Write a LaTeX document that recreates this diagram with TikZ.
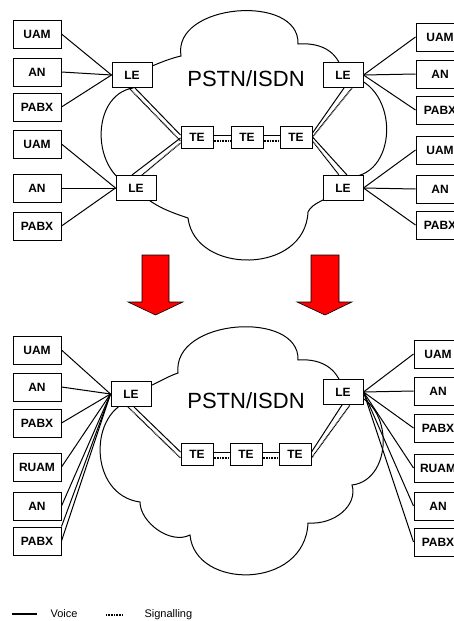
\documentclass[tikz,border=0pt]{standalone}
\usepackage{fontspec}
\setmainfont{Liberation Sans}
\usetikzlibrary{calc}
\definecolor{arrred}{HTML}{FF0000}
\tikzset{
  box/.style={draw,fill=white,line width=1pt,minimum width=48pt,minimum height=28pt,inner sep=0pt,font=\fontsize{12}{12}\selectfont\bfseries},
  lebox/.style={box,minimum width=40pt,minimum height=25pt},
  tebox/.style={box,minimum width=32pt,minimum height=22pt},
  vc/.style={line width=1pt},
  sg/.style={line width=1.2pt,dash pattern=on 1pt off 0.6pt},
  cloudline/.style={line width=1pt},
  redarr/.style={fill=arrred,draw=black,line width=0.6pt},
  net/.style={font=\fontsize{22}{22}\selectfont},
  lgd/.style={anchor=base west,font=\fontsize{11}{11}\selectfont}
}
\begin{document}
\begin{tikzpicture}[x=1pt,y=-1pt]
\useasboundingbox (0,0) rectangle (454,621);
\clip (0,0) rectangle (454,621);

% --- upper network ---
\draw[cloudline] (132,75) .. controls (160,62) and (172,58) .. (181,56)
  .. controls (172,3) and (300,-7) .. (298,44)
  .. controls (325,42) and (340,55) .. (343,75)
  .. controls (400,80) and (400,175) .. (350,177) -- (343,190)
  .. controls (325,200) and (312,203) .. (308,212)
  .. controls (305,275) and (195,275) .. (188,218)
  .. controls (170,212) and (150,205) .. (136,188)
  .. controls (90,175) and (90,95) .. (133,88) -- cycle;
\node[net] (anet) at (246,79) {PSTN/ISDN};

\foreach \n/\t/\y in {1/UAM/34,2/AN/72,3/PABX/107,4/UAM/144,5/AN/188,6/PABX/226}
  \node[box] (aL\n) at (37,\y) {\t};
\foreach \n/\t/\y in {1/UAM/37,2/AN/74,3/PABX/110,4/UAM/150,5/AN/189,6/PABX/225}
  \node[box] (aR\n) at (440,\y) {\t};
\node[lebox] (aLE1) at (132,75) {LE};
\node[lebox] (aLE2) at (136,188) {LE};
\node[lebox] (aLE3) at (343,75) {LE};
\node[lebox] (aLE4) at (343,188) {LE};
\node[tebox] (aTE1) at (197,137) {TE};
\node[tebox] (aTE2) at (247,137) {TE};
\node[tebox] (aTE3) at (296,137) {TE};

\foreach \n in {1,2,3} \draw[vc] (aL\n.east) -- (aLE1.west);
\foreach \n in {4,5,6} \draw[vc] (aL\n.east) -- (aLE2.west);
\foreach \n in {1,2,3} \draw[vc] (aLE3.east) -- (aR\n.west);
\foreach \n in {4,5,6} \draw[vc] (aLE4.east) -- (aR\n.west);

\draw[vc] ($(aLE1.south)+(3,0)$) -- ($(aTE1.west)+(0,-2)$);
\draw[sg] ($(aLE1.south)+(-3,0)$) -- ($(aTE1.west)+(0,4)$);
\draw[vc] ($(aLE2.north)+(-4,0)$) -- ($(aTE1.west)+(0,1)$);
\draw[sg] ($(aLE2.north)+(6,0)$) -- ($(aTE1.west)+(0,6)$);
\draw[vc] ($(aTE1.east)+(0,-2)$) -- ($(aTE2.west)+(0,-2)$);
\draw[sg] ($(aTE1.east)+(0,4)$) -- ($(aTE2.west)+(0,4)$);
\draw[vc] ($(aTE2.east)+(0,-2)$) -- ($(aTE3.west)+(0,-2)$);
\draw[sg] ($(aTE2.east)+(0,4)$) -- ($(aTE3.west)+(0,4)$);
\draw[vc] ($(aTE3.east)+(0,-4)$) -- ($(aLE3.south)+(1,0)$);
\draw[sg] ($(aTE3.east)+(0,0)$) -- ($(aLE3.south)+(9,0)$);
\draw[vc] ($(aTE3.east)+(0,0)$) -- ($(aLE4.north)+(4,0)$);
\draw[sg] ($(aTE3.east)+(0,4)$) -- ($(aLE4.north)+(-4,0)$);

% --- arrows between the two networks ---
\draw[redarr] (142,255) -- (169,255) -- (169,302) -- (183,302) -- (155.5,315)
  -- (128,302) -- (142,302) -- cycle;
\draw[redarr] (311,255) -- (339,255) -- (339,302) -- (352,302) -- (325,315)
  -- (297,302) -- (311,302) -- cycle;

% --- lower network ---
\draw[cloudline] (131,394) .. controls (155,385) and (168,376) .. (178,373)
  .. controls (172,318) and (300,310) .. (298,360)
  .. controls (325,358) and (340,372) .. (343,392)
  .. controls (395,395) and (395,480) .. (352,485)
  .. controls (358,505) and (335,525) .. (308,523)
  .. controls (305,590) and (195,590) .. (190,535)
  .. controls (170,545) and (140,522) .. (140,502)
  .. controls (88,495) and (88,410) .. (133,400) -- cycle;
\node[net] (bnet) at (246,401) {PSTN/ISDN};

\foreach \n/\t/\y in {1/UAM/350,2/AN/387,3/PABX/423,4/RUAM/467,5/AN/506,6/PABX/541}
  \node[box] (bL\n) at (37,\y) {\t};
\foreach \n/\t/\y in {1/UAM/354,2/AN/391,3/PABX/428,4/RUAM/468,5/AN/506,6/PABX/542}
  \node[box] (bR\n) at (438,\y) {\t};
\node[lebox] (bLE1) at (131,394) {LE};
\node[lebox] (bLE2) at (343,392) {LE};
\node[tebox] (bTE1) at (197,454) {TE};
\node[tebox] (bTE2) at (246,454) {TE};
\node[tebox] (bTE3) at (295,454) {TE};

\foreach \n in {1,...,6} \draw[vc] (bL\n.east) -- (bLE1.west);
\draw[vc] (bL6.north east) -- (bLE1.west);
\foreach \n in {1,...,6} \draw[vc] (bLE2.east) -- (bR\n.west);

\draw[vc] ($(bLE1.south)+(3,0)$) -- ($(bTE1.west)+(0,-2)$);
\draw[sg] ($(bLE1.south)+(-3,0)$) -- ($(bTE1.west)+(0,4)$);
\draw[vc] ($(bTE1.east)+(0,-2)$) -- ($(bTE2.west)+(0,-2)$);
\draw[sg] ($(bTE1.east)+(0,4)$) -- ($(bTE2.west)+(0,4)$);
\draw[vc] ($(bTE2.east)+(0,-2)$) -- ($(bTE3.west)+(0,-2)$);
\draw[sg] ($(bTE2.east)+(0,4)$) -- ($(bTE3.west)+(0,4)$);
\draw[vc] ($(bTE3.east)+(0,-2)$) -- ($(bLE2.south)+(-1,0)$);
\draw[sg] ($(bTE3.east)+(0,4)$) -- ($(bLE2.south)+(7,0)$);

% --- legend ---
\draw[vc,line width=1.3pt] (12,614) -- (37,614);
\node[lgd] (voice) at (47,617) {Voice};
\draw[sg] (106,615) -- (123,615);
\node[lgd] (signal) at (141,617) {Signalling};
\end{tikzpicture}
\end{document}
